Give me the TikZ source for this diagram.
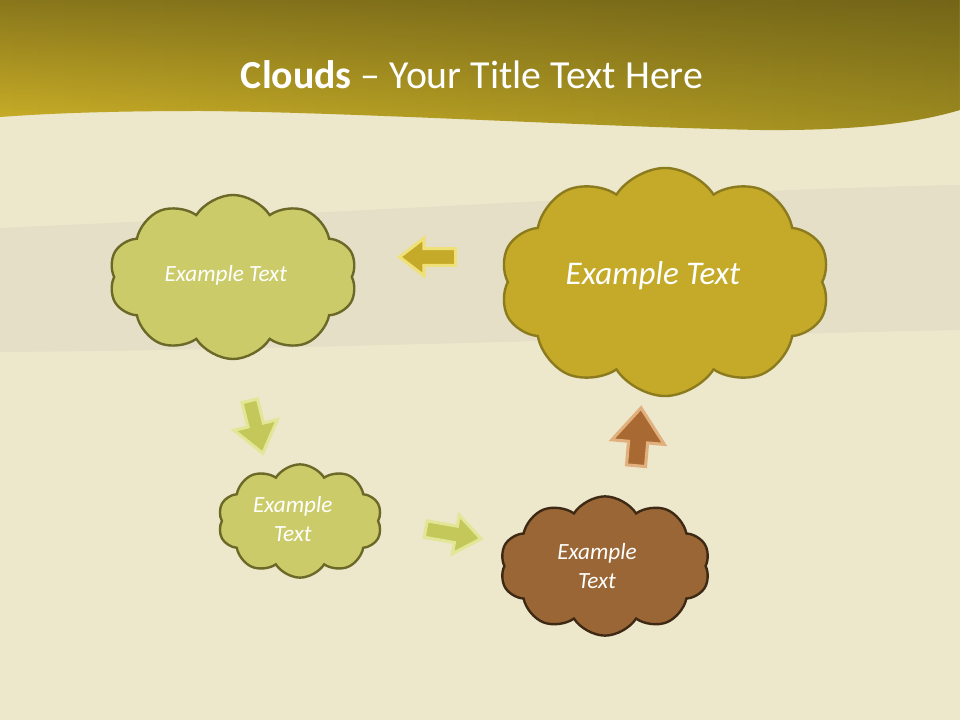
\documentclass[tikz,border=0pt]{standalone}
\usepackage{fontspec}
\setmainfont{Carlito}
\usetikzlibrary{shapes.symbols,shapes.arrows,positioning,fadings}

\definecolor{paper}{RGB}{237,231,203}
\definecolor{smudge}{RGB}{196,192,182}
\definecolor{bandlight}{RGB}{206,178,40}
\definecolor{bandmid}{RGB}{158,140,32}
\definecolor{banddark}{RGB}{80,70,18}
\definecolor{limefill}{RGB}{203,203,106}
\definecolor{limeline}{RGB}{107,104,40}
\definecolor{goldfill}{RGB}{196,170,40}
\definecolor{goldline}{RGB}{140,122,30}
\definecolor{brownfill}{RGB}{155,102,53}
\definecolor{brownline}{RGB}{62,42,20}
\definecolor{goldglow}{RGB}{240,224,120}
\definecolor{limearrow}{RGB}{196,200,90}
\definecolor{limeglow}{RGB}{226,230,150}
\definecolor{brownarrow}{RGB}{168,106,50}
\definecolor{brownglow}{RGB}{226,176,126}

\begin{document}
\begin{tikzpicture}[
    x=0.025cm, y=-0.025cm,
    title/.style={text=white, font=\fontsize{28.3}{33}\selectfont},
    cloudbox/.style={cloud, cloud puffs=10, cloud puff arc=115, cloud ignores aspect,
                     draw, line width=1.7pt, inner sep=0pt},
    bigtext/.style={text=white, align=center, font=\fontsize{23.5}{28}\itshape},
    midtext/.style={text=white, align=center, font=\fontsize{16.5}{20.6}\itshape},
    blockarrow/.style={single arrow, single arrow tip angle=75,
                       single arrow head indent=0pt, inner xsep=0pt,
                       line width=2.2pt},
  ]
    % page and header band
    \fill[paper] (0,0) rectangle (960,720);
    \useasboundingbox (0,0) rectangle (960,720);
    \fill[smudge, opacity=0.2] (0,228) .. controls (300,215) and (700,190) .. (960,185)
        -- (960,330) .. controls (700,335) and (300,350) .. (0,352) -- cycle;
    \shade[left color=bandlight, right color=bandmid]
        (0,0) -- (960,0) -- (960,110) .. controls (920,122) and (860,131) .. (760,130)
        .. controls (600,127) and (350,112) .. (200,111)
        .. controls (100,111) and (40,114) .. (0,117) -- cycle;
    \fill[banddark, opacity=0.55, path fading=south]
        (0,0) -- (960,0) -- (960,110) .. controls (920,122) and (860,131) .. (760,130)
        .. controls (600,127) and (350,112) .. (200,111)
        .. controls (100,111) and (40,114) .. (0,117) -- cycle;
    \node[title] (T) at (472,75) {\textbf{Clouds} – Your Title Text Here};

    % clouds
    \node[cloudbox, fill=limefill, draw=limeline,
          minimum width=6.2cm, minimum height=4.1cm] (C1) at (233,277) {};
    \node[cloudbox, fill=goldfill, draw=goldline,
          minimum width=8.25cm, minimum height=5.7cm] (C2) at (665,282) {};
    \node[cloudbox, fill=limefill, draw=limeline,
          minimum width=4.1cm, minimum height=2.83cm] (C3) at (300,521) {};
    \node[cloudbox, fill=brownfill, draw=brownline,
          minimum width=5.25cm, minimum height=3.48cm] (C4) at (605,566) {};

    \node[midtext] (L1) at ([xshift=-0.18cm, yshift=0.04cm]C1.center) {Example Text};
    \node[bigtext] (L2) at ([xshift=-0.3cm, yshift=0.17cm]C2.center) {Example Text};
    \node[midtext] (L3) at ([xshift=-0.18cm, yshift=0.05cm]C3.center) {Example\\Text};
    \node[midtext] (L4) at ([xshift=-0.2cm]C4.center) {Example\\Text};

    % arrows between the clouds
    \node[blockarrow, fill=goldfill, draw=goldglow, rotate=180, inner ysep=0.17cm,
          single arrow head extend=0.26cm, minimum height=1.4cm] (A1) at (433,257) {};
    \node[blockarrow, fill=limearrow, draw=limeglow, rotate=-76, inner ysep=0.16cm,
          single arrow head extend=0.36cm, minimum height=1.35cm] (A2) at (255,422) {};
    \node[blockarrow, fill=limearrow, draw=limeglow, rotate=-10, inner ysep=0.17cm,
          single arrow head extend=0.28cm, minimum height=1.4cm] (A3) at (448,533) {};
    \node[blockarrow, fill=brownarrow, draw=brownglow, rotate=85, inner ysep=0.2cm,
          single arrow head extend=0.42cm, minimum height=1.45cm] (A4) at (638,443) {};
  \end{tikzpicture}
\end{document}
